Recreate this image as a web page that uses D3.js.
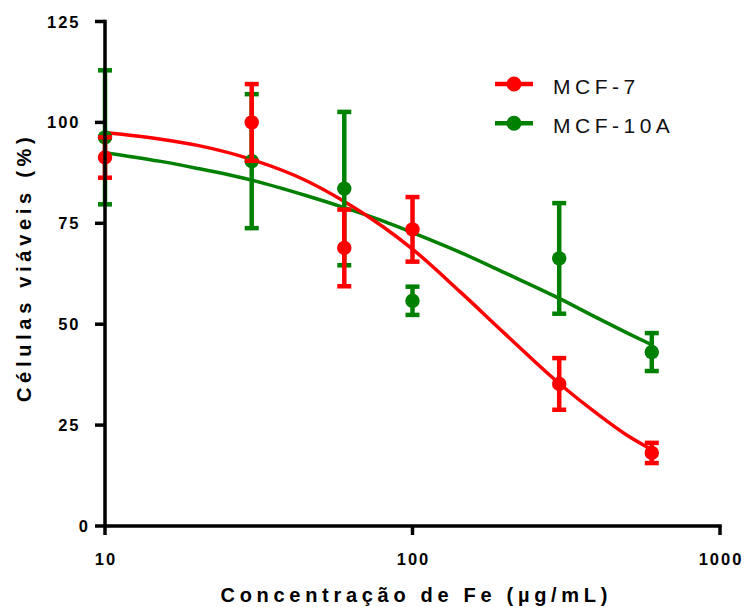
<!DOCTYPE html>
<html>
<head>
<meta charset="utf-8">
<script src="https://cdn.jsdelivr.net/npm/d3@7"></script>
<style>
  html, body { margin: 0; padding: 0; background: #fff; }
  svg { display: block; font-family: "Liberation Sans", Arial, sans-serif; }
</style>
</head>
<body>
<svg id="chart" width="750" height="607"></svg>
<script>
// ---- data ----
const concentrations = [10, 30, 60, 100, 300, 600];
const mcf7Mean   = [91.3, 100, 68.9, 73.5, 35.2, 18.1];
const mcf7Err    = [5.0, 9.5, 9.5, 8.0, 6.4, 2.5];
const mcf10aMean = [96.3, 90.4, 83.6, 55.8, 66.3, 43.1];
const mcf10aErr  = [16.6, 16.6, 19.0, 3.5, 13.7, 4.7];

// fitted curves
const fitX      = [10, 15, 20, 30, 45, 60, 80, 100, 143, 200, 300, 400, 500, 600];
const mcf7Fit   = [97.5, 95.9, 94.3, 90.8, 85.6, 80.4, 74.2, 68.6, 58.0, 47.6, 35.3, 27.7, 22.4, 18.9];
const mcf10aFit = [92.5, 90.4, 88.6, 85.7, 81.9, 78.9, 75.6, 72.7, 67.8, 62.7, 56.4, 51.5, 47.8, 44.9];

const xTicks = [10, 100, 1000];
const yTicks = [0, 25, 50, 75, 100, 125];
const seriesNames = ["MCF-7", "MCF-10A"];
const seriesColors = ["#ff0000", "#008000"];
const xTitle = "Concentração de Fe (µg/mL)";
const yTitle = "Células viáveis (%)";

// ---- drawing ----
const svg = d3.select("#chart");
const x = d3.scaleLog().domain([10, 1000]).range([105, 720]);
const y = d3.scaleLinear().domain([0, 125]).range([526, 21.5]);

const series = [
  { name: seriesNames[1], color: seriesColors[1], mean: mcf10aMean, err: mcf10aErr, fit: mcf10aFit },
  { name: seriesNames[0], color: seriesColors[0], mean: mcf7Mean, err: mcf7Err, fit: mcf7Fit }
];

const line = d3.line()
  .x(d => x(d[0]))
  .y(d => y(d[1]))
  .curve(d3.curveMonotoneX);

// curves
series.forEach(s => {
  svg.append("path")
    .datum(fitX.map((v, i) => [v, s.fit[i]]))
    .attr("fill", "none")
    .attr("stroke", s.color)
    .attr("stroke-width", 3.5)
    .attr("d", line);
});

// error bars + points
series.forEach(s => {
  const g = svg.append("g");
  concentrations.forEach((c, i) => {
    const cx = x(c);
    const top = y(s.mean[i] + s.err[i]);
    const bot = y(s.mean[i] - s.err[i]);
    g.append("line").attr("x1", cx).attr("x2", cx).attr("y1", top).attr("y2", bot)
      .attr("stroke", s.color).attr("stroke-width", 4.5);
    [top, bot].forEach(yy => {
      g.append("line").attr("x1", cx - 7).attr("x2", cx + 7).attr("y1", yy).attr("y2", yy)
        .attr("stroke", s.color).attr("stroke-width", 4.5);
    });
    g.append("circle").attr("cx", cx).attr("cy", y(s.mean[i])).attr("r", 7.2)
      .attr("fill", s.color);
  });
});

// axes
const axisG = svg.append("g");
axisG.append("line").attr("x1", 105).attr("x2", 105).attr("y1", y(125) - 1.75).attr("y2", 535)
  .attr("stroke", "#000").attr("stroke-width", 3.5);
axisG.append("line").attr("x1", 105).attr("x2", x(1000) + 1.75).attr("y1", 526).attr("y2", 526)
  .attr("stroke", "#000").attr("stroke-width", 3.5);

const tickSpacing = 2;
yTicks.forEach(t => {
  axisG.append("line").attr("x1", 95).attr("x2", 105).attr("y1", y(t)).attr("y2", y(t))
    .attr("stroke", "#000").attr("stroke-width", 3.5);
  const rightEdge = t === 0 ? 88 : 78.5;
  axisG.append("text")
    .attr("x", rightEdge + tickSpacing).attr("y", y(t) + 6)
    .attr("text-anchor", "end")
    .attr("font-size", 16.5).attr("font-weight", "bold")
    .style("letter-spacing", tickSpacing + "px")
    .text(String(t));
});

xTicks.forEach(t => {
  if (t !== 10) {
    axisG.append("line").attr("x1", x(t)).attr("x2", x(t)).attr("y1", 526).attr("y2", 535)
      .attr("stroke", "#000").attr("stroke-width", 3.5);
  }
  axisG.append("text")
    .attr("x", x(t) + tickSpacing / 2).attr("y", 565)
    .attr("text-anchor", "middle")
    .attr("font-size", 16.5).attr("font-weight", "bold")
    .style("letter-spacing", tickSpacing + "px")
    .text(String(t));
});

// axis titles
const titleSpacing = 4.7;
svg.append("text")
  .attr("x", 414 + titleSpacing / 2).attr("y", 602)
  .attr("text-anchor", "middle")
  .attr("font-size", 20).attr("font-weight", "bold")
  .style("letter-spacing", titleSpacing + "px")
  .text(xTitle);

svg.append("text")
  .attr("transform", `translate(31,${265 + titleSpacing / 2}) rotate(-90)`)
  .attr("text-anchor", "middle")
  .attr("font-size", 20).attr("font-weight", "bold")
  .style("letter-spacing", titleSpacing + "px")
  .text(yTitle);

// legend
const legend = svg.append("g");
[0, 1].forEach(i => {
  const ly = 84 + i * 39.3;
  legend.append("line").attr("x1", 495).attr("x2", 533).attr("y1", ly).attr("y2", ly)
    .attr("stroke", seriesColors[i]).attr("stroke-width", 4.5);
  legend.append("circle").attr("cx", 514).attr("cy", ly).attr("r", 7.5).attr("fill", seriesColors[i]);
  legend.append("text")
    .attr("x", 553).attr("y", ly + 9.5)
    .attr("font-size", 21)
    .style("letter-spacing", "4.5px")
    .attr("fill", "#111")
    .text(seriesNames[i]);
});
</script>
</body>
</html>
